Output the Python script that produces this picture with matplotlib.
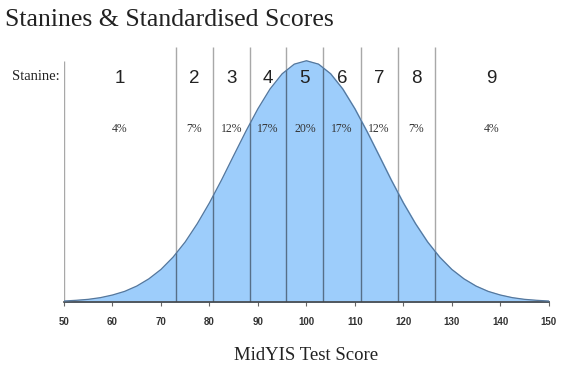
import matplotlib
matplotlib.use("Agg")
import matplotlib.pyplot as plt

# score axis and relative height of the curve (peak = 1)
scores = [50, 52.5, 55, 57.5, 60, 62.5, 65, 67.5, 70, 72.5, 75, 77.5, 80, 82.5, 85,
          87.5, 90, 92.5, 95, 97.5, 100, 102.5, 105, 107.5, 110, 112.5, 115, 117.5,
          120, 122.5, 125, 127.5, 130, 132.5, 135, 137.5, 140, 142.5, 145, 147.5, 150]
heights = [0.004, 0.007, 0.011, 0.018, 0.029, 0.044, 0.066, 0.096, 0.135, 0.186,
           0.249, 0.325, 0.411, 0.506, 0.607, 0.707, 0.801, 0.883, 0.946, 0.986,
           1.0, 0.986, 0.946, 0.883, 0.801, 0.707, 0.607, 0.506, 0.411, 0.325,
           0.249, 0.186, 0.135, 0.096, 0.066, 0.044, 0.029, 0.018, 0.011, 0.007, 0.004]

boundaries = [73.1, 80.7, 88.3, 95.9, 103.5, 111.2, 118.8, 126.5]
stanines = ["1", "2", "3", "4", "5", "6", "7", "8", "9"]
percents = ["4%", "7%", "12%", "17%", "20%", "17%", "12%", "7%", "4%"]
ticks = [50, 60, 70, 80, 90, 100, 110, 120, 130, 140, 150]

serif = "Liberation Serif"
sans = "Liberation Sans"

fig = plt.figure(figsize=(5.74, 3.69), dpi=100)
ax = fig.add_axes([0.1115, 0.1816, 0.8445, 0.6917])
ymax = 1.058
ax.set_xlim(50, 150)
ax.set_ylim(0, ymax)

fill = ax.fill_between(scores, heights, 0, color="#9dcdfb", zorder=1)
ax.plot(scores, heights, color="#55779c", lw=0.9, zorder=3)

# band lines: grey above the curve, darker inside the filled area
ax.vlines(boundaries, 0, ymax, color="#a8a8a8", lw=1.0, zorder=0)
inner = ax.vlines(boundaries, 0, ymax, color="#566f88", lw=1.0, zorder=2)
inner.set_clip_path(fill.get_paths()[0], ax.transData)
ax.vlines([50], 0, 1.0, color="#a8a8a8", lw=1.0, zorder=0)

edges = [50] + boundaries + [150]
for i in range(9):
    cx = (edges[i] + edges[i + 1]) / 2
    ax.text(cx, 0.926, stanines[i], ha="center", va="center", fontsize=13.5,
            family=sans, color="#222222", zorder=4)
    ax.text(cx, 0.716, percents[i], ha="center", va="center", fontsize=8.5,
            family=serif, color="#333333", zorder=4)

fig.text(0.021, 0.792, "Stanine:", ha="left", va="center", fontsize=10.5,
         family=serif, color="#222222")
fig.text(0.009, 0.945, "Stanines & Standardised Scores", ha="left", va="center",
         fontsize=18.5, family=serif, color="#222222")

for s in ["top", "right", "left"]:
    ax.spines[s].set_visible(False)
ax.spines["bottom"].set_color("#444444")
ax.spines["bottom"].set_linewidth(1.2)
ax.set_yticks([])
ax.set_xticks(ticks)
ax.set_xticklabels([str(t) for t in ticks], fontsize=7, family=sans,
                   fontweight="bold", color="#333333")
ax.tick_params(axis="x", length=3, width=0.8, color="#666666", pad=8)
ax.set_xlabel("MidYIS Test Score", fontsize=13.5, family=serif, color="#222222",
              labelpad=14)

fig.savefig("out.png", dpi=100)
